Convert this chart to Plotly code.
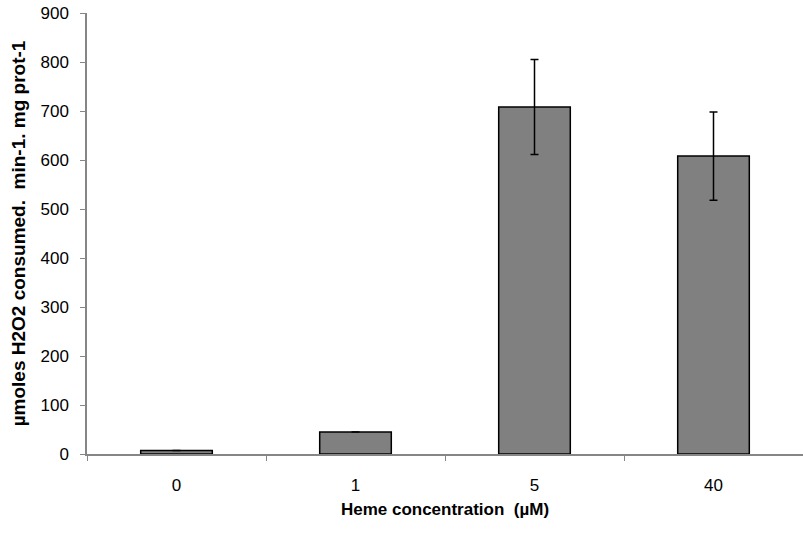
import plotly.graph_objects as go

categories = ["0", "1", "5", "40"]
values = [7, 45, 708, 608]
errors = [None, None, 97, 90]

fig = go.Figure()
fig.add_trace(go.Bar(
    x=categories, y=values,
    marker=dict(color="#808080", line=dict(color="#000000", width=1.5)),
    width=0.4,
    error_y=dict(type="data", array=errors, visible=True, color="#000000",
                 thickness=1.5, width=4),
))

font_family = "Liberation Sans, Arial, sans-serif"
fig.update_layout(
    width=803, height=535,
    margin=dict(l=87, r=0, t=13, b=81),
    plot_bgcolor="white", paper_bgcolor="white",
    showlegend=False,
    font=dict(family=font_family, size=17, color="#000000"),
    xaxis=dict(
        type="category", tickson="boundaries", ticks="outside", ticklen=5,
        tickcolor="#868686", showline=True, linecolor="#868686", linewidth=1.5,
        showgrid=False, tickfont=dict(size=17), automargin=False,
        ticklabelstandoff=15,
        title=dict(text="<b>Heme concentration  (µM)</b>", font=dict(size=17), standoff=9),
    ),
    yaxis=dict(
        range=[0, 900], dtick=100, ticks="outside", ticklen=5,
        tickcolor="#868686", showline=True, linecolor="#868686", linewidth=1.5,
        showgrid=False, zeroline=False, tickfont=dict(size=17), automargin=False,
        ticklabelstandoff=8,
        title=dict(text="<b>µmoles H2O2 consumed.  min-1. mg prot-1</b>", font=dict(size=19), standoff=10),
    ),
)

fig.write_html("out.html", config={"displayModeBar": False},
               post_script="document.body.style.margin='0';")
